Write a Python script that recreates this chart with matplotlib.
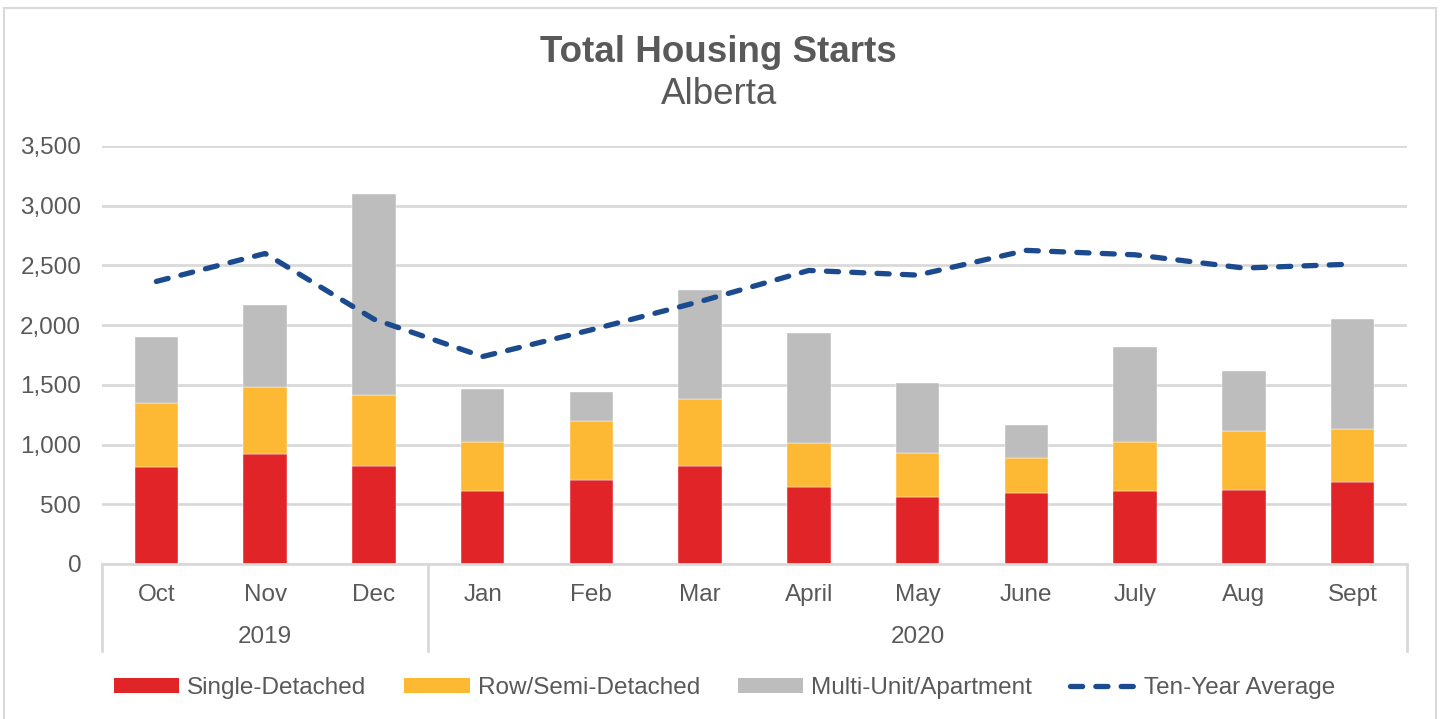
import numpy as np
import matplotlib
matplotlib.use("Agg")
import matplotlib.pyplot as plt
import matplotlib.transforms as mtransforms
from matplotlib.patches import Patch, Rectangle
from matplotlib.lines import Line2D

plt.rcParams["font.family"] = ["Liberation Sans", "DejaVu Sans"]

# === datos ===
meses = ["Oct", "Nov", "Dec", "Jan", "Feb", "Mar", "April", "May", "June", "July", "Aug", "Sept"]
anios = ["2019", "2020"]
meses_por_anio = [3, 9]

single = [813, 919, 824, 614, 707, 824, 648, 561, 592, 612, 623, 687]
row_semi = [536, 564, 592, 411, 491, 556, 369, 367, 294, 413, 489, 442]
multi = [553, 687, 1679, 439, 241, 916, 921, 589, 282, 796, 500, 922]
promedio_10 = [2366, 2600, 2050, 1737, 1961, 2198, 2458, 2419, 2626, 2589, 2478, 2511]

# === colores ===
c_rojo = "#E12427"
c_naranja = "#FDB933"
c_gris = "#BDBDBD"
c_azul = "#1B4A8F"
c_texto = "#595959"
c_rejilla = "#D9D9D9"

fs = 17.5  # tamaño de fuente de ejes y leyenda

fig = plt.figure(figsize=(14.4, 7.19), dpi=100)
ax = fig.add_axes([102 / 1440, 1 - 564 / 719, 1305 / 1440, 418 / 719])

x = np.arange(len(meses))
ancho = 0.4
s = np.array(single)
r = np.array(row_semi)
m = np.array(multi)

ax.bar(x, s, ancho, color=c_rojo, edgecolor="white", linewidth=0.3, zorder=2)
ax.bar(x, r, ancho, bottom=s, color=c_naranja, edgecolor="white", linewidth=0.3, zorder=2)
ax.bar(x, m, ancho, bottom=s + r, color=c_gris, edgecolor="white", linewidth=0.3, zorder=2)
ax.plot(x, promedio_10, color=c_azul, lw=3.8, linestyle=(0, (2.3, 2.5)),
        dash_capstyle="round", solid_joinstyle="round", zorder=3)

ax.set_xlim(-0.5, len(meses) - 0.5)
ax.set_ylim(0, 3500)
ax.set_yticks(np.arange(0, 3501, 500))
ax.set_yticklabels([f"{v:,}" for v in range(0, 3501, 500)])
ax.yaxis.grid(True, color=c_rejilla, lw=2, zorder=0)
ax.set_axisbelow(True)
for lado in ["top", "right", "left"]:
    ax.spines[lado].set_visible(False)
ax.spines["bottom"].set_color(c_rejilla)
ax.spines["bottom"].set_linewidth(2)

ax.set_xticks(x)
ax.set_xticklabels(meses)
ax.tick_params(axis="x", length=0, pad=14.5, labelsize=fs, labelcolor=c_texto)
ax.tick_params(axis="y", length=0, pad=15, labelsize=fs, labelcolor=c_texto)

# ejes de categoria de anio
trans = mtransforms.blended_transform_factory(ax.transData, fig.transFigure)
y_top = 1 - 564 / 719
y_bot = 1 - 651 / 719
inicio = -0.5
bordes = [inicio]
for anio, n in zip(anios, meses_por_anio):
    fin = inicio + n
    fig.text((inicio + fin) / 2, 1 - 637 / 719, anio, transform=trans,
             ha="center", va="center", fontsize=fs, color=c_texto)
    bordes.append(fin)
    inicio = fin
for b in bordes:
    fig.add_artist(Line2D([b, b], [y_top, y_bot], transform=trans,
                          color=c_rejilla, lw=2, clip_on=False))

# titulos
fig.text(0.499, 1 - 52 / 719, "Total Housing Starts", ha="center", va="center",
         fontsize=26.5, fontweight="bold", color=c_texto)
fig.text(0.499, 1 - 95 / 719, "Alberta", ha="center", va="center",
         fontsize=26.5, color=c_texto)

# leyenda
handles = [
    Patch(facecolor=c_rojo, edgecolor="none"),
    Patch(facecolor=c_naranja, edgecolor="none"),
    Patch(facecolor=c_gris, edgecolor="none"),
    Line2D([0], [0], color=c_azul, lw=3.8, linestyle=(0, (2.3, 2.5)), dash_capstyle="round"),
]
labels = ["Single-Detached", "Row/Semi-Detached", "Multi-Unit/Apartment", "Ten-Year Average"]
leg = fig.legend(handles, labels, loc="center", bbox_to_anchor=(0.503, 1 - 688 / 719),
                 ncol=4, frameon=False, fontsize=fs, handlelength=2.7,
                 handleheight=0.55, handletextpad=0.33, columnspacing=1.55)
for t in leg.get_texts():
    t.set_color(c_texto)

# borde exterior
fig.patches.append(Rectangle((4 / 1440, -0.02), 1432 / 1440, 1 - 8 / 719 + 0.02,
                             transform=fig.transFigure, fill=False,
                             edgecolor=c_rejilla, lw=1.5))

fig.savefig("out.png", dpi=100, facecolor="white")
